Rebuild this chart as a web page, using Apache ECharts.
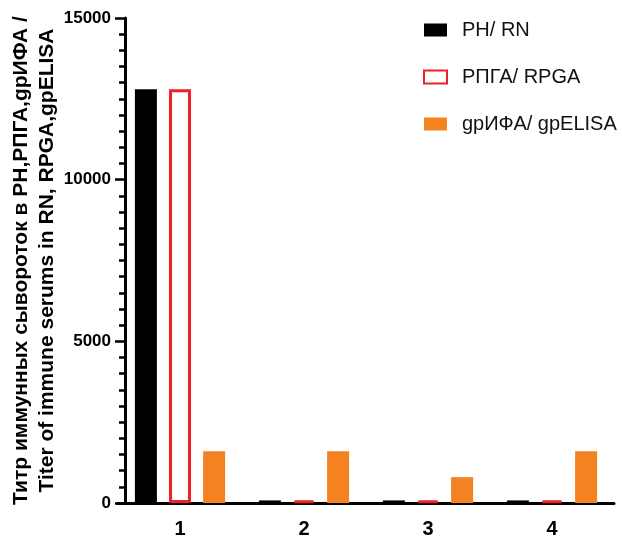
<!DOCTYPE html>
<html>
<head>
<meta charset="utf-8">
<script src="https://cdn.jsdelivr.net/npm/echarts@6/dist/echarts.min.js"></script>
<style>
  html, body { margin: 0; padding: 0; background: #fff; }
  #chart { width: 622px; height: 542px; }
</style>
</head>
<body>
<div id="chart"></div>
<script>
// Groups on the x axis
const categories = ['1', '2', '3', '4'];

// Titers per method
const seriesNames = ['PH/ RN', 'РПГА/ RPGA', 'gpИФА/ gpELISA'];
const rnValues = [12800, 80, 80, 80];
const rpgaValues = [12800, 80, 80, 80];
const elisaValues = [1600, 1600, 800, 1600];

const yTitle = 'Титр иммунных сывороток в РН,РПГА,gpИФА /\nTiter of immune serums in RN, RPGA,gpELISA';

const FONT = '"Liberation Sans", Arial, sans-serif';

const chart = echarts.init(document.getElementById('chart'), null, { renderer: 'canvas' });

chart.setOption({
  animation: false,
  backgroundColor: '#ffffff',
  grid: {
    left: 118, right: 8, top: 18, bottom: 39,
    containLabel: false,
    outerBoundsMode: 'none'
  },
  legend: {
    orient: 'vertical',
    left: 423,
    top: 20,
    padding: 0,
    icon: 'rect',
    itemWidth: 23,
    itemHeight: 13,
    itemGap: 27,
    textStyle: { fontFamily: FONT, fontSize: 20, color: '#111', padding: [0, 0, 0, 10] },
    data: seriesNames
  },
  xAxis: {
    type: 'category',
    data: categories,
    axisLine: { lineStyle: { color: '#000', width: 3 } },
    axisTick: { alignWithLabel: true, length: 8, lineStyle: { color: '#000', width: 3 } },
    axisLabel: { fontFamily: FONT, fontSize: 20, fontWeight: 'bold', color: '#000', margin: 16 }
  },
  yAxis: {
    type: 'value',
    min: 0,
    max: 15000,
    interval: 5000,
    offset: -7,
    name: yTitle,
    nameLocation: 'middle',
    nameRotate: 90,
    nameGap: 65,
    nameMoveOverlap: false,
    nameTextStyle: { fontFamily: FONT, fontSize: 21, fontWeight: 'bold', color: '#000', lineHeight: 26 },
    axisLine: { show: true, lineStyle: { color: '#000', width: 3 } },
    axisTick: { show: true, length: 10, lineStyle: { color: '#000', width: 2.5 } },
    minorTick: { show: true, splitNumber: 10, length: 6, lineStyle: { color: '#000', width: 2.5 } },
    splitLine: { show: false },
    axisLabel: {
      fontFamily: FONT, fontSize: 17, fontWeight: 'bold', color: '#000', margin: 14,
      formatter: (v) => String(v)
    }
  },
  series: [
    {
      name: seriesNames[0],
      type: 'bar',
      data: rnValues,
      barWidth: 22,
      barGap: '55%',
      itemStyle: { color: '#000000' }
    },
    {
      name: seriesNames[1],
      type: 'bar',
      data: rpgaValues,
      barWidth: 22,
      barGap: '55%',
      itemStyle: { color: '#ffffff', borderColor: '#ea2228', borderWidth: 3 }
    },
    {
      name: seriesNames[2],
      type: 'bar',
      data: elisaValues,
      barWidth: 22,
      barGap: '55%',
      itemStyle: { color: '#f58220' }
    }
  ]
});
</script>
</body>
</html>
